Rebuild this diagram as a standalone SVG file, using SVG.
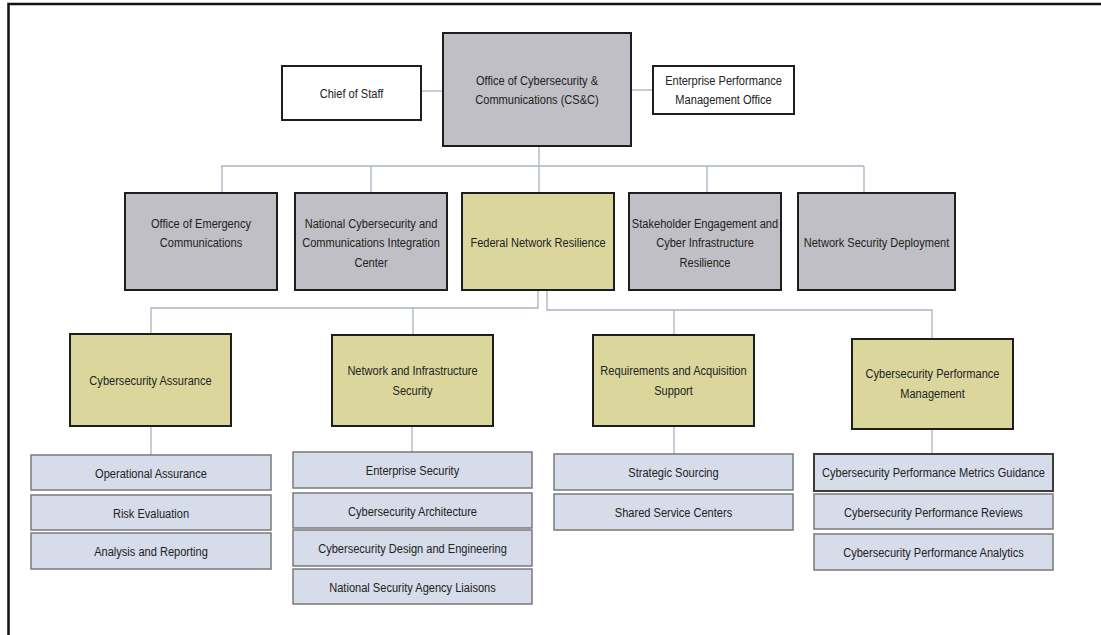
<svg xmlns="http://www.w3.org/2000/svg" width="1101" height="635" viewBox="0 0 1101 635">
<style>
  text { font-family: "Liberation Sans", Arial, sans-serif; font-size: 13.5px; fill: #222; text-anchor: middle; }
  .main { stroke: #1e1e1e; stroke-width: 2; }
  .white { fill: #ffffff; }
  .gray { fill: #bfbfc5; }
  .yellow { fill: #dbd79c; }
  .sub { fill: #d6dcea; stroke: #7a7a7a; stroke-width: 1.5; }
  .subdark { fill: #d6dcea; stroke: #3c3c3c; stroke-width: 2; }
  .conn { fill: none; stroke: #aab4c2; stroke-width: 1.3; }
</style>
<rect x="0" y="0" width="1101" height="635" fill="#ffffff"/>
<g id="frame" fill="none" stroke="#111" stroke-width="2.5">
  <path d="M8.5,635 V4 H1101"/>
</g>
<g id="connectors" class="conn">
  <path d="M421,91 H443"/>
  <path d="M631,90 H653"/>
  <path d="M539,146 V193"/>
  <path d="M221,166 H864"/>
  <path d="M222,166 V193 M371,166 V193 M707,166 V193 M864,166 V193"/>
  <path d="M538,290 V308 H151 V334"/>
  <path d="M413,308 V335"/>
  <path d="M547,290 V310 H932 V339"/>
  <path d="M674,310 V335"/>
  <path d="M151,426 V455"/>
  <path d="M412,426 V452"/>
  <path d="M674,426 V454"/>
  <path d="M932,429 V454"/>
</g>
<g id="chief-of-staff"><rect class="main white" x="282" y="66" width="139" height="54"/><text transform="translate(351.5 97.5) scale(0.82 1)">Chief of Staff</text></g>
<g id="csc"><rect class="main gray" x="443" y="33" width="188" height="113"/><text transform="translate(537 85) scale(0.82 1)">Office of Cybersecurity &amp;</text><text transform="translate(537 104) scale(0.82 1)">Communications (CS&amp;C)</text></g>
<g id="epmo"><rect class="main white" x="653" y="66" width="141" height="48"/><text transform="translate(723.5 85) scale(0.82 1)">Enterprise Performance</text><text transform="translate(723.5 104) scale(0.82 1)">Management Office</text></g>

<g id="oec"><rect class="main gray" x="125" y="193" width="152" height="97"/><text transform="translate(201 228) scale(0.82 1)">Office of Emergency</text><text transform="translate(201 247) scale(0.82 1)">Communications</text></g>
<g id="nccic"><rect class="main gray" x="295" y="193" width="152" height="97"/><text transform="translate(371 228) scale(0.82 1)">National Cybersecurity and</text><text transform="translate(371 247) scale(0.82 1)">Communications Integration</text><text transform="translate(371 267) scale(0.82 1)">Center</text></g>
<g id="fnr"><rect class="main yellow" x="462" y="193" width="152" height="97"/><text transform="translate(538 247) scale(0.82 1)">Federal Network Resilience</text></g>
<g id="secir"><rect class="main gray" x="629" y="193" width="152" height="97"/><text transform="translate(705 228) scale(0.82 1)">Stakeholder Engagement and</text><text transform="translate(705 247) scale(0.82 1)">Cyber Infrastructure</text><text transform="translate(705 267) scale(0.82 1)">Resilience</text></g>
<g id="nsd"><rect class="main gray" x="798" y="193" width="157" height="97"/><text transform="translate(876.5 247) scale(0.82 1)">Network Security Deployment</text></g>

<g id="ca"><rect class="main yellow" x="70" y="334" width="161" height="92"/><text transform="translate(150.5 385) scale(0.82 1)">Cybersecurity Assurance</text></g>
<g id="nis"><rect class="main yellow" x="332" y="335" width="161" height="91"/><text transform="translate(412.5 375) scale(0.82 1)">Network and Infrastructure</text><text transform="translate(412.5 395) scale(0.82 1)">Security</text></g>
<g id="ras"><rect class="main yellow" x="593" y="335" width="161" height="91"/><text transform="translate(673.5 375) scale(0.82 1)">Requirements and Acquisition</text><text transform="translate(673.5 395) scale(0.82 1)">Support</text></g>
<g id="cpm"><rect class="main yellow" x="852" y="339" width="161" height="90"/><text transform="translate(932.5 378) scale(0.82 1)">Cybersecurity Performance</text><text transform="translate(932.5 398) scale(0.82 1)">Management</text></g>

<g id="ca-op"><rect class="sub" x="31" y="455" width="240" height="35"/><text transform="translate(151 477.5) scale(0.82 1)">Operational Assurance</text></g>
<g id="ca-risk"><rect class="sub" x="31" y="495" width="240" height="35"/><text transform="translate(151 517.5) scale(0.82 1)">Risk Evaluation</text></g>
<g id="ca-ar"><rect class="sub" x="31" y="533" width="240" height="36"/><text transform="translate(151 556) scale(0.82 1)">Analysis and Reporting</text></g>

<g id="nis-es"><rect class="sub" x="293" y="452" width="239" height="36"/><text transform="translate(412.5 475) scale(0.82 1)">Enterprise Security</text></g>
<g id="nis-ca"><rect class="sub" x="293" y="493" width="239" height="35"/><text transform="translate(412.5 515.5) scale(0.82 1)">Cybersecurity Architecture</text></g>
<g id="nis-de"><rect class="sub" x="293" y="530" width="239" height="36"/><text transform="translate(412.5 553) scale(0.82 1)">Cybersecurity Design and Engineering</text></g>
<g id="nis-nsa"><rect class="sub" x="293" y="569" width="239" height="35"/><text transform="translate(412.5 591.5) scale(0.82 1)">National Security Agency Liaisons</text></g>

<g id="ras-ss"><rect class="sub" x="554" y="454" width="239" height="36"/><text transform="translate(673.5 477) scale(0.82 1)">Strategic Sourcing</text></g>
<g id="ras-ssc"><rect class="sub" x="554" y="494" width="239" height="36"/><text transform="translate(673.5 517) scale(0.82 1)">Shared Service Centers</text></g>

<g id="cpm-mg"><rect class="subdark" x="814" y="454" width="239" height="37"/><text transform="translate(933.5 477) scale(0.82 1)">Cybersecurity Performance Metrics Guidance</text></g>
<g id="cpm-rev"><rect class="sub" x="814" y="494" width="239" height="35"/><text transform="translate(933.5 516.5) scale(0.82 1)">Cybersecurity Performance Reviews</text></g>
<g id="cpm-an"><rect class="sub" x="814" y="534" width="239" height="36"/><text transform="translate(933.5 557) scale(0.82 1)">Cybersecurity Performance Analytics</text></g>
</svg>
